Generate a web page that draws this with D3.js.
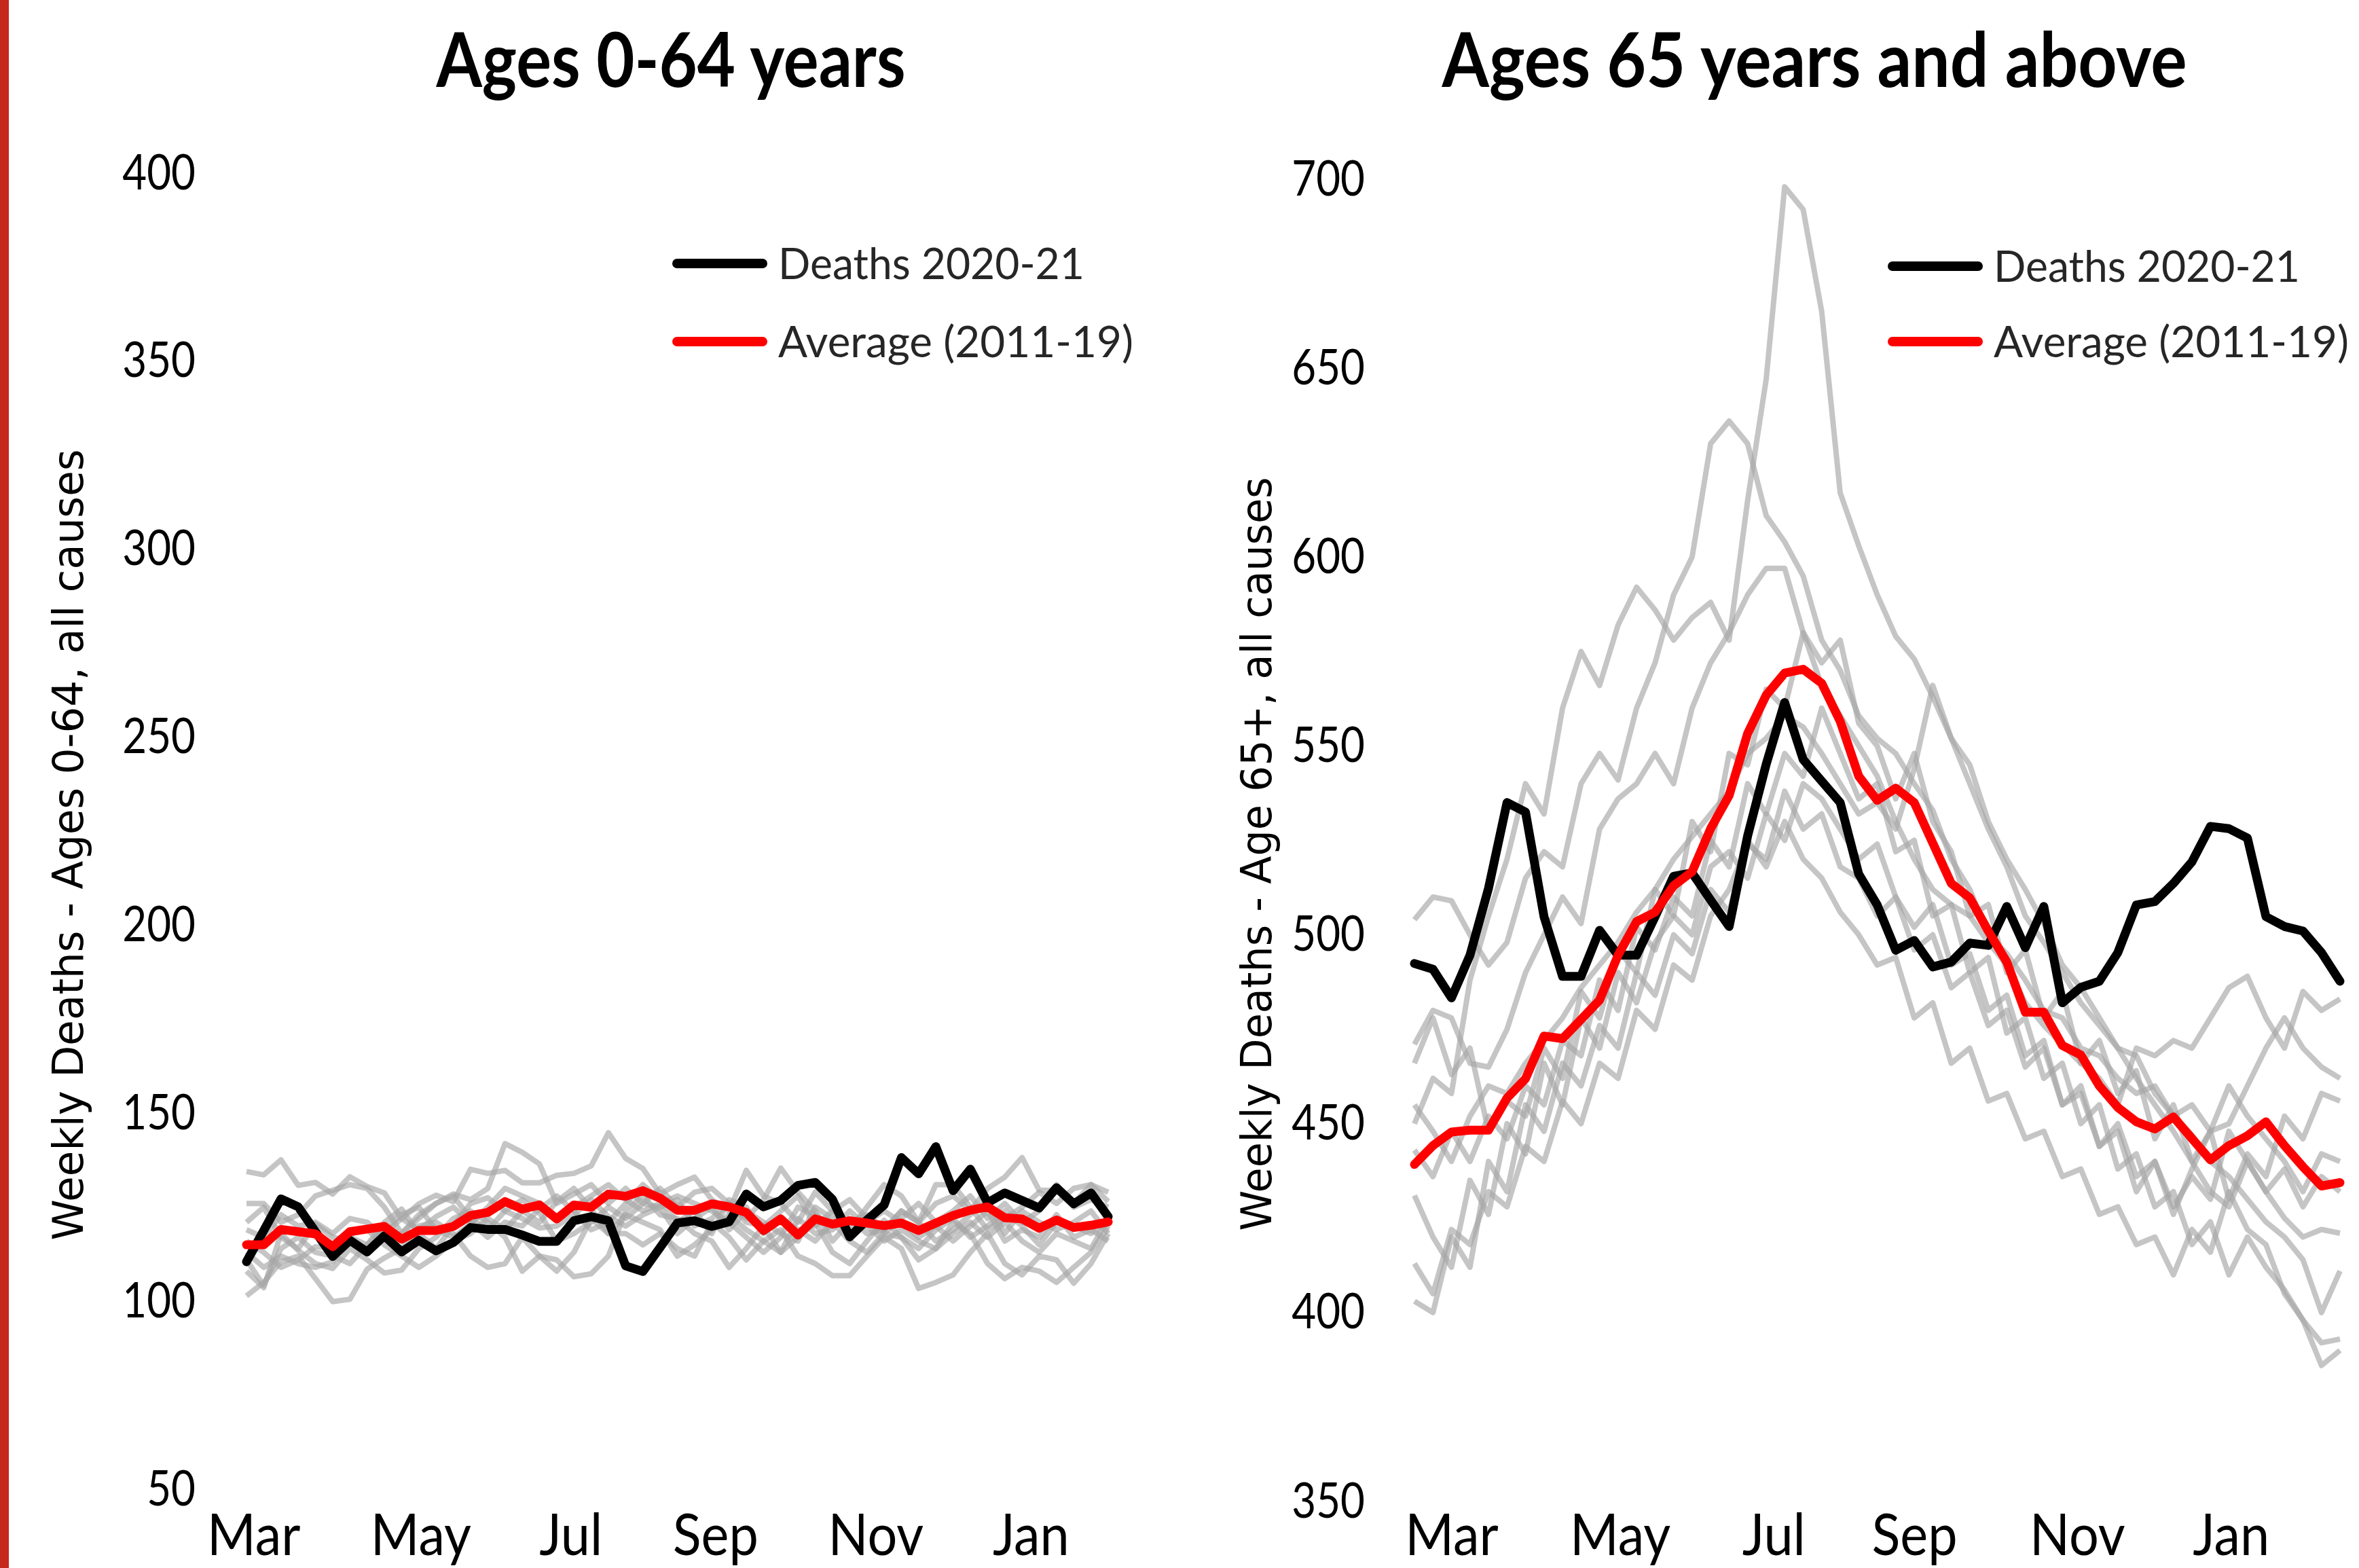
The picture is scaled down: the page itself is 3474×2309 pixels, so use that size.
<!DOCTYPE html>
<html>
<head>
<meta charset="utf-8">
<script src="https://cdn.jsdelivr.net/npm/d3@7/dist/d3.min.js"></script>
<style>
  html, body { margin: 0; padding: 0; background: #fff; }
  svg { display: block; }
</style>
</head>
<body>
<div id="chart"></div>
<script>
// Tick labels shared by both panels (every ninth week or so)
const monthLabels = ["Mar", "May", "Jul", "Sep", "Nov", "Jan"];
const youngTickWeeks = [0.4, 10.1, 18.8, 27.2, 36.5, 45.5];
const oldTickWeeks = [2.0, 11.1, 19.4, 27.0, 35.8, 44.1];

// Ages 0-64: weekly deaths 2020-21, the 2011-19 average, and each past year
const youngDeaths = [110.5, 118.8, 127.2, 125.1, 118.5, 111.9, 116.2, 113.1, 117.4, 113.1, 116.2, 113.4, 115.6, 119.6, 119.1, 119.1, 117.6, 115.9, 115.9, 121.4, 122.5, 121.4, 109.4, 107.9, 114.3,
  120.8, 121.4, 119.9, 121.1, 128.5, 125.1, 126.8, 130.8, 131.6, 127.1, 117.1, 121.6, 125.6, 138.2, 133.9, 141.1, 129.4, 135.1, 126.2, 128.8, 126.8, 124.8, 130.2, 125.9, 128.8, 122.5];
const youngAverage = [115, 115, 119.1, 118.5, 117.9, 114.5, 118.5, 119.2, 119.9, 116.5, 118.8, 118.8, 119.9, 122.8, 123.6, 126.5, 124.5, 125.6, 121.9, 125.6, 125, 128.5, 127.9, 129.4, 127.4,
  124.2, 124.2, 125.9, 125.1, 123.6, 118.8, 121.9, 117.6, 121.9, 120.5, 121.4, 120.8, 120.1, 120.8, 118.8, 120.8, 122.8, 124.2, 125.1, 122.2, 121.9, 119.4, 121.6, 119.6, 120.2, 121.1];
const youngPastYears = [
  [134.5, 133.6, 137.6, 130.8, 131.6, 128.5, 133.1, 130.5, 128.8, 121.9, 125.9, 128.2, 126.5, 135.1, 134, 134.8, 131.5, 131.5, 133.5, 134, 136, 144.8, 138, 135.3, 128.5,
   131, 133, 127, 124, 134.8, 128, 126, 121, 129, 124, 119, 125, 131, 128, 121, 126, 128, 124, 130, 133, 138.2, 129.5, 129.5, 126, 131, 126.5],
  [126, 126, 121, 123, 128, 129.5, 131, 130, 125, 118, 123, 126, 128.5, 127, 130, 141.9, 139.6, 136.5, 126, 128.5, 131, 126, 130, 126, 125,
   127, 120, 122, 126, 122, 127, 135.4, 129, 124, 116, 121, 123, 119, 124, 121, 131, 131, 125, 119, 122, 125, 129, 126, 130, 131, 129],
  [101.4, 105, 110.5, 112, 106, 99.9, 100.5, 108.5, 111.5, 114, 120, 121, 118, 112, 109, 110, 117, 112, 108, 113, 122, 118, 118, 115, 118,
   114, 112, 121, 117, 111, 116, 119, 112, 110, 106.8, 106.8, 112, 117, 114, 103.4, 105, 107, 113, 118, 110, 107, 112, 111, 104.8, 110, 118],
  [108, 103.6, 118, 113.5, 110, 108.7, 114, 111, 107.5, 108.3, 114, 117, 122, 124, 121, 117, 108, 112, 111, 106.5, 107.3, 112, 124, 128, 123,
   122, 118, 116, 109, 114, 120, 113, 117, 121, 113, 110, 116, 121.5, 117, 111, 114, 121, 118, 110, 106, 109, 108, 105, 109, 113, 120],
  [113, 109, 112, 110, 109, 110.5, 118, 119, 115, 112, 109, 112, 116, 118, 122, 119, 124, 121, 126.5, 130, 124.5, 118, 123, 121, 119,
   112, 115, 119, 123, 119, 116, 113, 122, 118, 119, 124, 120, 116, 119, 116, 114, 118, 121, 117, 121, 116, 113, 118, 116, 114, 122],
  [119, 117, 123, 120, 121, 118, 122, 121, 117, 118, 122, 126, 128, 122, 119, 124, 127, 123.5, 116, 118, 121, 125, 122, 126, 130,
   125, 129, 130, 126, 121, 120, 124, 128, 120, 124, 127, 122, 118, 122, 126, 121, 124, 128, 122, 126, 121, 124, 131, 125, 127, 125],
  [116, 113, 109, 111, 114.5, 114, 117, 115, 119, 123, 125, 119, 117, 120.5, 125, 130, 128, 126, 122, 125, 128, 131, 127, 124, 126,
   128, 126, 124, 121, 117, 113, 117, 125, 123, 120, 122, 118, 119, 124, 121, 116, 119, 123, 127, 118, 124, 121, 119, 121, 124, 118],
  [111, 104.2, 114, 117, 113, 112, 110, 115, 121, 124.5, 118, 114, 120, 126, 127.5, 124, 122, 119.5, 120, 123, 127, 122.5, 120, 123, 125,
   118, 122, 125, 119, 124, 121, 118, 116, 125, 122, 118, 121, 124, 121, 117, 120, 116, 120, 124, 116, 119, 117, 123, 117, 119, 116],
  [121, 125, 117, 114, 120.5, 117, 116, 113, 118, 122, 119, 122.5, 125, 121, 117, 121, 120, 124.5, 128, 124, 119, 121, 126, 131, 127,
   121, 124, 118, 127, 125, 118, 122, 119, 116, 121, 116, 113, 118, 117, 114, 119, 122, 117, 120, 124, 120, 115, 121, 120, 118, 121]
];

// Ages 65+: same series
const oldDeaths = [492.4, 490.9, 483.3, 494.6, 512.3, 535, 532.5, 504.8, 489, 489, 501.2, 494.6, 494.6, 504.8, 515.5, 516.4, 509.2, 502.2, 526.2, 545.1, 561.5, 546.4, 540.7, 535, 516.1,
  507.9, 495.9, 498.5, 491.5, 492.8, 497.8, 497.2, 507.5, 496.6, 507.5, 482, 486.1, 487.7, 495.3, 507.9, 508.8, 513.6, 519.3, 528.7, 528.1, 525.6, 504.8, 502.2, 501, 495.3, 487.7];
const oldAverage = [439.2, 444.2, 447.8, 448.3, 448.3, 456.8, 461.9, 473.2, 472.5, 477.6, 482.7, 494.6, 503.5, 506, 513, 516.7, 528.1, 536.9, 553.3, 563.4, 569.3, 570.3, 566.6, 556.5, 542,
  535.6, 538.8, 535, 524.3, 513.6, 509.8, 501, 492.8, 479.5, 479.5, 470.7, 468.2, 460, 454.3, 450.5, 448.6, 451.8, 446.1, 440.4, 444.2, 446.8, 450.5, 444.2, 438.6, 433.5, 434.4];
const oldPastYears = [
  [450, 462, 458, 488, 505, 520, 540, 532, 560, 575, 566, 582, 592, 586, 578, 584, 588, 578, 615, 647, 698, 692, 665, 617, 603,
   590, 579, 573, 563, 552, 545, 530, 520, 512, 503, 492, 486, 478, 470, 468, 458, 452, 447, 440, 436, 430, 424, 420, 414, 400, 411],
  [504, 510, 509, 500, 492, 498, 515, 522, 518, 540, 548, 541, 560, 572, 590, 600, 630, 636, 630, 611, 604, 595, 578, 570, 558,
   552, 548, 540, 533, 520, 512, 500, 495, 488, 480, 478, 470, 468, 462, 458, 460, 452, 455, 448, 450, 460, 470, 478, 470, 465, 462],
  [471, 480, 478, 466, 465, 475, 490, 500, 510, 503, 528, 536, 540, 548, 540, 560, 572, 580, 590, 597, 597, 580, 566, 558, 550,
   542, 530, 520, 512, 508, 505, 498, 492, 482, 476, 471, 466, 462, 455, 470, 468, 472, 470, 478, 486, 489, 478, 470, 485, 480, 483],
  [466, 478, 463, 470, 448, 456, 452, 470, 462, 485, 478, 496, 490, 512, 505, 530, 522, 548, 545, 565, 560, 580, 572, 578, 556,
   550, 536, 548, 530, 522, 505, 508, 490, 496, 478, 485, 466, 472, 458, 464, 446, 455, 440, 448, 430, 442, 436, 452, 446, 458, 456],
  [455, 448, 440, 452, 460, 458, 466, 472, 478, 486, 492, 498, 506, 512, 520, 526, 532, 538, 548, 552, 558, 555, 548, 540, 532,
   535, 528, 544, 566, 552, 540, 528, 518, 505, 498, 490, 482, 476, 470, 462, 455, 448, 440, 432, 428, 440, 432, 425, 420, 422, 421],
  [443, 436, 448, 440, 452, 446, 460, 455, 472, 468, 488, 480, 502, 496, 510, 505, 525, 518, 540, 532, 548, 542, 560, 548, 536,
   540, 522, 525, 505, 508, 490, 494, 474, 478, 462, 466, 450, 455, 438, 442, 428, 432, 418, 424, 410, 420, 412, 406, 398, 392, 393],
  [431, 420, 412, 435, 426, 450, 442, 466, 455, 478, 470, 490, 482, 498, 505, 500, 518, 522, 515, 532, 525, 540, 536, 528, 520,
   524, 510, 502, 508, 492, 495, 480, 484, 468, 472, 455, 460, 444, 448, 432, 440, 428, 436, 430, 448, 440, 432, 438, 428, 436, 432],
  [413, 405, 422, 418, 432, 428, 444, 440, 456, 450, 466, 462, 480, 475, 492, 488, 505, 512, 524, 520, 538, 528, 532, 518, 515,
   505, 510, 496, 500, 486, 490, 476, 480, 465, 470, 455, 458, 444, 450, 436, 440, 426, 438, 448, 460, 452, 446, 440, 432, 442, 440],
  [403, 400, 420, 412, 440, 432, 455, 448, 466, 460, 476, 470, 490, 484, 500, 495, 512, 506, 525, 518, 530, 520, 515, 506, 500,
   492, 494, 478, 482, 466, 470, 456, 458, 446, 448, 436, 438, 426, 428, 418, 420, 410, 422, 416, 432, 422, 418, 405, 398, 386, 390]
];

const W = 3474, H = 2309;
const labelFont = "Lato, 'Open Sans', sans-serif";
const axisTitleFont = "'DejaVu Sans', Verdana, sans-serif";
const squeeze = 0.86; // labels in the reference are narrower than Lato

const panels = [
  {
    title: "Ages 0-64 years", yTitle: "Weekly Deaths - Ages 0-64, all causes",
    deaths: youngDeaths, average: youngAverage, past: youngPastYears,
    yDomain: [50, 400], tickWeeks: youngTickWeeks,
    left: 363, right: 1632, top: 255, bottom: 2193,
    tickLabelX: 288, titleX: 988, titleW: 691, yTitleX: 100, yTitleW: 1165,
    legendX: 990, legendY: [388, 503]
  },
  {
    title: "Ages 65 years and above", yTitle: "Weekly Deaths - Age 65+, all causes",
    deaths: oldDeaths, average: oldAverage, past: oldPastYears,
    yDomain: [350, 700], tickWeeks: oldTickWeeks,
    left: 2083, right: 3446, top: 264, bottom: 2211,
    tickLabelX: 2010, titleX: 2672, titleW: 1097, yTitleX: 1850, yTitleW: 1110,
    legendX: 2780, legendY: [392, 503]
  }
];
const legendItems = [
  { label: "Deaths 2020-21", color: "#000", width: 451 },
  { label: "Average (2011-19)", color: "#ff0000", width: 523 }
];

const svg = d3.select("#chart").append("svg")
  .attr("width", W)
  .attr("height", H)
  .attr("viewBox", `0 0 ${W} ${H}`);

svg.append("rect").attr("width", W).attr("height", H).attr("fill", "#fff");

// red strip down the left edge
svg.append("rect").attr("x", 0).attr("y", 0).attr("width", 13).attr("height", H).attr("fill", "#c5281c");

panels.forEach(p => {
  const n = p.deaths.length;
  const x = d3.scaleLinear().domain([0, n - 1]).range([p.left, p.right]);
  const y = d3.scaleLinear().domain(p.yDomain).range([p.bottom, p.top]);
  const line = d3.line().x((d, i) => x(i)).y(d => y(d));

  const g = svg.append("g");

  // y tick labels
  const yAxis = g.append("g")
    .attr("transform", `translate(${p.tickLabelX},0)`)
    .call(d3.axisLeft(y).ticks(7).tickSize(0).tickPadding(0));
  yAxis.select(".domain").remove();
  yAxis.selectAll("text")
    .attr("font-family", labelFont)
    .attr("font-size", 72)
    .attr("fill", "#000")
    .attr("transform", `scale(${squeeze},1)`);

  // x tick labels (month names) along the bottom edge
  const xAxis = g.append("g")
    .attr("transform", "translate(0,2229)")
    .call(d3.axisBottom(x).tickValues(p.tickWeeks).tickFormat((d, i) => monthLabels[i]).tickSize(0).tickPadding(0));
  xAxis.select(".domain").remove();
  xAxis.selectAll("text")
    .attr("font-family", labelFont)
    .attr("font-size", 86)
    .attr("fill", "#000")
    .attr("transform", "scale(0.9,1)");

  // previous years, faint grey
  g.append("g").selectAll("path")
    .data(p.past)
    .join("path")
    .attr("d", line)
    .attr("fill", "none")
    .attr("stroke", "#a6a6a6")
    .attr("stroke-opacity", 0.65)
    .attr("stroke-width", 8)
    .attr("stroke-linejoin", "round");

  g.append("path")
    .attr("d", line(p.deaths))
    .attr("fill", "none")
    .attr("stroke", "#000")
    .attr("stroke-width", 13)
    .attr("stroke-linejoin", "round")
    .attr("stroke-linecap", "round");

  g.append("path")
    .attr("d", line(p.average))
    .attr("fill", "none")
    .attr("stroke", "#ff0000")
    .attr("stroke-width", 13)
    .attr("stroke-linejoin", "round")
    .attr("stroke-linecap", "round");

  // panel title
  g.append("text")
    .attr("x", p.titleX - p.titleW / 2)
    .attr("y", 128)
    .attr("textLength", p.titleW)
    .attr("lengthAdjust", "spacingAndGlyphs")
    .attr("font-family", labelFont)
    .attr("font-weight", "bold")
    .attr("font-size", 112)
    .attr("fill", "#000")
    .text(p.title);

  // y axis title
  g.append("text")
    .attr("transform", `translate(${p.yTitleX},${(p.top + p.bottom) / 2 + 20}) rotate(-90)`)
    .attr("x", -p.yTitleW / 2)
    .attr("textLength", p.yTitleW)
    .attr("lengthAdjust", "spacingAndGlyphs")
    .attr("dominant-baseline", "central")
    .attr("font-family", axisTitleFont)
    .attr("font-size", 62)
    .attr("fill", "#000")
    .text(p.yTitle);

  // legend
  legendItems.forEach((item, i) => {
    const ly = p.legendY[i];
    g.append("line")
      .attr("x1", p.legendX + 7).attr("x2", p.legendX + 133)
      .attr("y1", ly).attr("y2", ly)
      .attr("stroke", item.color)
      .attr("stroke-width", 14)
      .attr("stroke-linecap", "round");
    g.append("text")
      .attr("x", p.legendX + 156)
      .attr("y", ly + 23)
      .attr("textLength", item.width)
      .attr("lengthAdjust", "spacingAndGlyphs")
      .attr("font-family", labelFont)
      .attr("font-size", 64)
      .attr("fill", "#262626")
      .text(item.label);
  });
});
</script>
</body>
</html>
